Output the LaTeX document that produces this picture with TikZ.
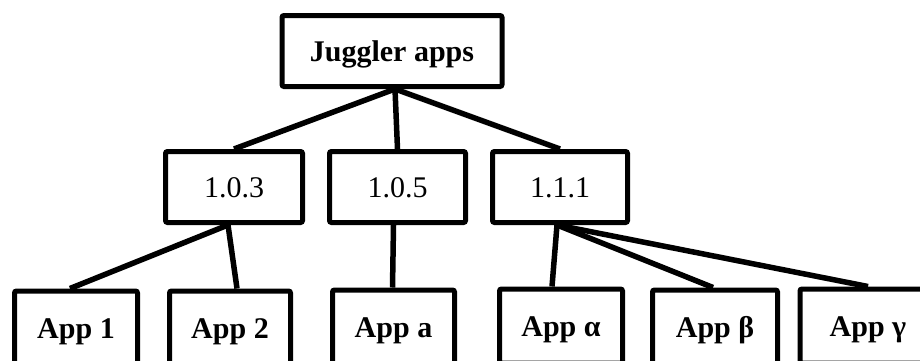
\documentclass[tikz,border=0pt]{standalone}
\usepackage{fontspec}
\setmainfont{Liberation Serif}
\begin{document}
\begin{tikzpicture}[x=1pt,y=-1pt,
  box/.style={draw=black,line width=5pt,rounded corners=2pt,fill=white,inner sep=0pt,
    text height=20pt,text depth=0pt,font=\fontsize{30}{32}\selectfont},
  bbox/.style={box,font=\fontsize{30}{32}\selectfont\bfseries},
  link/.style={line width=5.5pt}]
\useasboundingbox (0,0) rectangle (920,360);
\clip (0,0) rectangle (920,360);
\fill[white] (0,0) rectangle (920,360);
% top
\node[bbox,minimum width=220pt,minimum height=71pt] (top) at (392,51) {Juggler apps};
% middle
\node[box,minimum width=137pt,minimum height=71pt] (m1) at (234,187) {1.0.3};
\node[box,minimum width=136pt,minimum height=71pt] (m2) at (397.5,187) {1.0.5};
\node[box,minimum width=135pt,minimum height=71pt] (m3) at (560,187) {1.1.1};
% bottom
\node[bbox,minimum width=123pt,minimum height=74pt] (b1) at (76,328) {App 1};
\node[bbox,minimum width=121pt,minimum height=74pt] (b2) at (230,328) {App 2};
\node[bbox,minimum width=122pt,minimum height=74pt] (b3) at (393.5,327) {App a};
\node[bbox,minimum width=123pt,minimum height=74pt] (b4) at (561,326) {App α};
\node[bbox,minimum width=125pt,minimum height=74pt] (b5) at (715,327) {App β};
\node[bbox,minimum width=136pt,minimum height=74pt] (b6) at (868,326) {App γ};
% connectors
\draw[link] ([xshift=3pt]top.south) -- (m1.north);
\draw[link] ([xshift=3pt]top.south) -- (m2.north);
\draw[link] ([xshift=3pt]top.south) -- (m3.north);
\draw[link] ([xshift=-6pt]m1.south) -- ([xshift=-6pt]b1.north);
\draw[link] ([xshift=-6pt]m1.south) -- ([xshift=7pt]b2.north);
\draw[link] ([xshift=-4pt]m2.south) -- ([xshift=-1pt]b3.north);
\draw[link] ([xshift=-3pt]m3.south) -- ([xshift=-9pt]b4.north);
\draw[link] ([xshift=-3pt]m3.south) -- ([xshift=-2pt]b5.north);
\draw[link] ([xshift=-3pt]m3.south) -- (b6.north);
\end{tikzpicture}
\end{document}
